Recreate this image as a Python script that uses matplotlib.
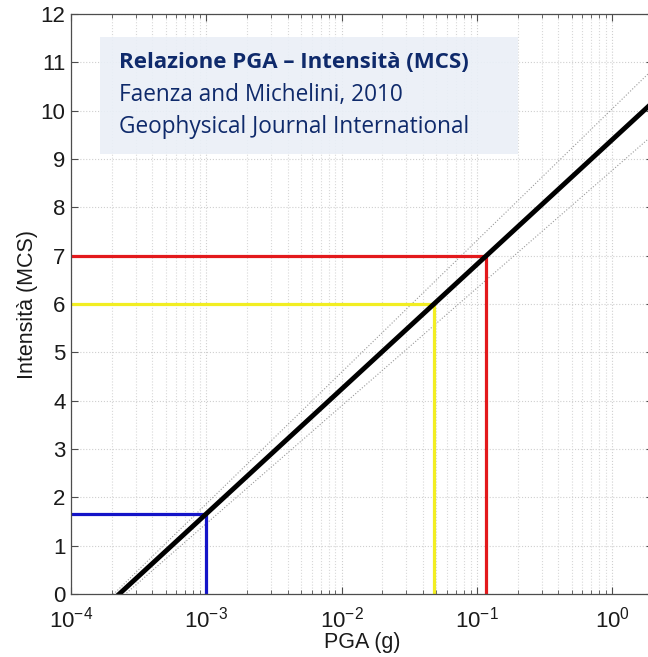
import matplotlib
matplotlib.use("Agg")
import matplotlib.pyplot as plt
import numpy as np
from matplotlib.ticker import LogLocator, NullFormatter, FixedLocator

plt.rcParams["font.family"] = ["Liberation Sans", "DejaVu Sans"]

# Faenza & Michelini (2010), PGA in g: I = a + b*log10(PGA)
a_coef = 9.40
b_coef = 2.58
pga_range = [1e-4, 2.0]

# dotted uncertainty band: I at the two ends of pga_range
band_upper = [-0.86, 10.86]
band_lower = [-0.98, 9.50]

# example readings: intensity level, PGA, colour
levels = [7.0, 6.0, 1.65]
level_pga = [0.117, 0.048, 1.0e-3]
level_colors = ["#e3191c", "#f2ee22", "#1414c8"]

fig = plt.figure(figsize=(6.48, 6.57), dpi=100)
ax = fig.add_axes([71 / 648, 63 / 657, 582 / 648, 580 / 657])

ax.set_xscale("log")
ax.set_xlim(pga_range)
ax.set_ylim(0, 12)

ax.xaxis.set_major_locator(LogLocator(base=10, numticks=10))
ax.xaxis.set_minor_locator(LogLocator(base=10, subs=np.arange(2, 10), numticks=20))
ax.xaxis.set_minor_formatter(NullFormatter())
ax.yaxis.set_major_locator(FixedLocator(range(0, 13)))

ax.grid(True, which="major", color="#cfcfcf", linestyle=":", linewidth=0.8)
ax.grid(True, which="minor", axis="x", color="#d8d8d8", linestyle=":", linewidth=0.8)
ax.set_axisbelow(True)

x = np.array(pga_range)
ax.plot(x, band_upper, color="#9a9a9a", linestyle=":", linewidth=0.8)
ax.plot(x, band_lower, color="#9a9a9a", linestyle=":", linewidth=0.8)

for lev, pga, col in zip(levels, level_pga, level_colors):
    ax.plot([pga_range[0], pga, pga], [lev, lev, 0], color=col, linewidth=2.3,
            solid_joinstyle="miter")

ax.plot(x, a_coef + b_coef * np.log10(x), color="black", linewidth=3.5)

for s in ax.spines.values():
    s.set_color("#4d4d4d")
    s.set_linewidth(0.9)

ax.tick_params(which="both", direction="in", top=True, right=True,
               labelsize=16, colors="#4d4d4d", labelcolor="#1a1a1a")
ax.tick_params(which="major", length=5)
ax.tick_params(which="minor", length=3)
ax.tick_params(axis="x", pad=9)
ax.tick_params(axis="y", pad=4)

ax.set_xlabel("PGA (g)", fontsize=15.5, color="#1a1a1a", labelpad=0)
ax.set_ylabel("Intensità (MCS)", fontsize=15.5, color="#1a1a1a", labelpad=2)

# text box
box = plt.Rectangle((100 / 648, 1 - 154 / 657), 418 / 648, 117 / 657,
                    transform=fig.transFigure, facecolor="#eaeff7", alpha=0.9,
                    edgecolor="none", zorder=5)
fig.patches.append(box)
txt_color = "#0f2a6b"
txt_font = ["Open Sans", "DejaVu Sans"]
fig.text(119 / 648, 1 - 63 / 657, "Relazione PGA – Intensità (MCS)", fontsize=16,
         fontweight="bold", family=txt_font, color=txt_color, va="center", zorder=6)
fig.text(119 / 648, 1 - 95 / 657, "Faenza and Michelini, 2010", fontsize=16.3,
         family=txt_font, color=txt_color, va="center", zorder=6)
fig.text(119 / 648, 1 - 127 / 657, "Geophysical Journal International", fontsize=16.3,
         family=txt_font, color=txt_color, va="center", zorder=6)

fig.savefig("out.png", dpi=100)
